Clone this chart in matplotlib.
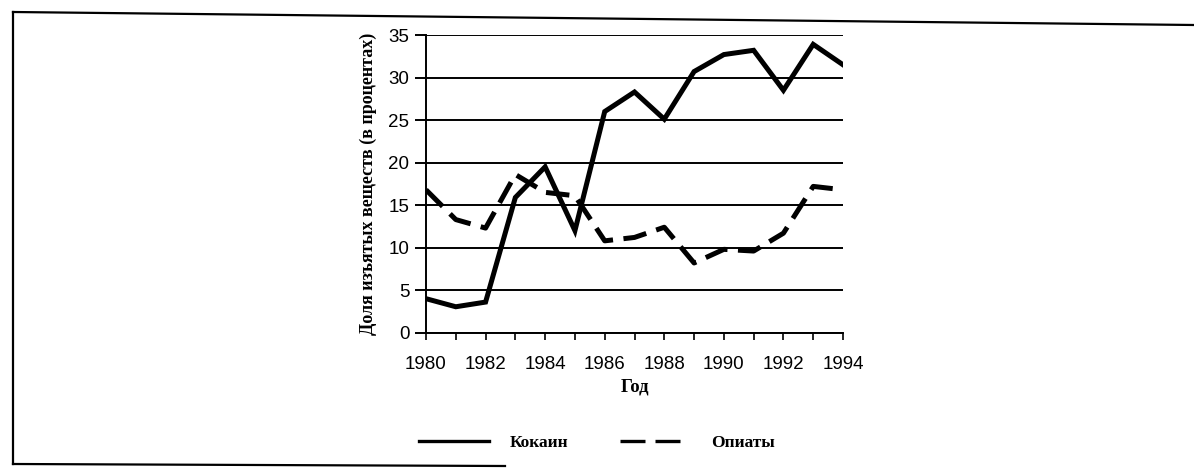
import matplotlib.pyplot as plt
from matplotlib.lines import Line2D

# Shares of seized drugs by year
years = list(range(1980, 1995))
cocaine = [4.0, 3.05, 3.6, 15.9, 19.5, 12.0, 26.0, 28.3, 25.1, 30.7, 32.7, 33.2, 28.5, 33.9, 31.5]
opiates = [16.8, 13.3, 12.3, 18.6, 16.5, 16.1, 10.8, 11.2, 12.4, 8.2, 9.8, 9.6, 11.7, 17.2, 16.8]

x_labels = [str(y) for y in range(1980, 1995, 2)]
y_ticks = [0, 5, 10, 15, 20, 25, 30, 35]

SERIF = 'Liberation Serif'
SANS = 'Liberation Sans'

W, H = 1194, 470
fig = plt.figure(figsize=(W / 100, H / 100), dpi=100)
ax = fig.add_axes([426 / W, 1 - 332.7 / H, (843 - 426) / W, (332.7 - 35) / H])

ax.plot(years, cocaine, color='black', lw=3.6, solid_joinstyle='miter', zorder=3)
ax.plot(years, opiates, color='black', lw=3.6, dashes=(4.7, 2.1), zorder=3)

ax.set_xlim(1980, 1994)
ax.set_ylim(0, 35)
ax.set_yticks(y_ticks)
ax.set_xticks(range(1980, 1995, 2))
ax.set_xticks(range(1981, 1995, 2), minor=True)
ax.set_xticklabels(x_labels)

for lab in ax.get_xticklabels() + ax.get_yticklabels():
    lab.set_fontfamily(SANS)
    lab.set_fontsize(13.5)

ax.tick_params(axis='y', which='major', length=8, width=1.4, pad=4, direction='out')
ax.tick_params(axis='x', which='both', length=5, width=1.2, pad=12, direction='out')

ax.grid(axis='y', color='black', lw=1.4)
ax.set_axisbelow(True)
for side in ['top', 'right']:
    ax.spines[side].set_visible(False)
ax.spines['left'].set_linewidth(1.4)
ax.spines['bottom'].set_linewidth(1.4)

ax.set_ylabel('Доля изъятых веществ (в процентах)', family=SERIF, weight='bold',
              fontsize=13, labelpad=8)
ax.set_xlabel('Год', family=SERIF, weight='bold', fontsize=13.5, labelpad=4)

# legend below the plot
handles = [Line2D([], [], color='black', lw=2.4),
           Line2D([], [], color='black', lw=2.4, dashes=(7.5, 3))]
fig.legend(handles, ['Кокаин', 'Опиаты'], loc='center', bbox_to_anchor=(0.5, 0.058),
           ncol=2, frameon=False, prop={'family': SERIF, 'weight': 'bold', 'size': 12.5},
           handlelength=4.0, handletextpad=1.2, columnspacing=3.0)

# scanned page border
fig.add_artist(Line2D([13 / W, 1.0], [1 - 12 / H, 1 - 25 / H], color='black', lw=1.6))
fig.add_artist(Line2D([13 / W, 13 / W], [1 - 12 / H, 1 - 464 / H], color='black', lw=1.6))
fig.add_artist(Line2D([13 / W, 505 / W], [1 - 464 / H, 1 - 466 / H], color='black', lw=1.6))

fig.savefig('out.png', dpi=100)
